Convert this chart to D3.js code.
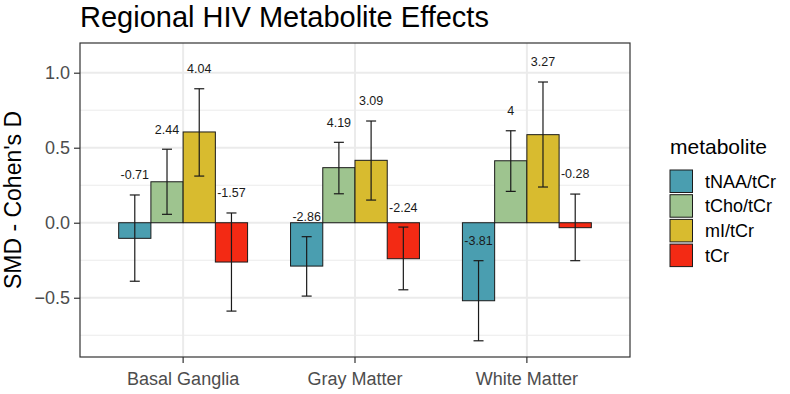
<!DOCTYPE html>
<html>
<head>
<meta charset="utf-8">
<script src="https://cdn.jsdelivr.net/npm/d3@7"></script>
<style>
  body { margin: 0; background: #fff; }
  text { font-family: "Liberation Sans", Arial, sans-serif; }
</style>
</head>
<body>
<svg id="chart"></svg>
<script>
/* CONSTANTS AND GLOBALS */
const width = 790,
  height = 394,
  margin = { top: 43, bottom: 37, left: 80, right: 160 };

/* DATA */
const regions = ["Basal Ganglia", "Gray Matter", "White Matter"];
const metabolites = ["tNAA/tCr", "tCho/tCr", "mI/tCr", "tCr"];
const colors = ["#4A9EB0", "#9EC48F", "#D8BB2F", "#F32A14"];

// SMD per region, in metabolite order
const smdBG = [-0.104, 0.273, 0.605, -0.262];
const smdGM = [-0.289, 0.367, 0.416, -0.240];
const smdWM = [-0.520, 0.413, 0.587, -0.033];

const lowerBG = [-0.390, 0.056, 0.311, -0.589];
const lowerGM = [-0.489, 0.193, 0.151, -0.447];
const lowerWM = [-0.787, 0.209, 0.238, -0.253];

const upperBG = [0.185, 0.490, 0.893, 0.065];
const upperGM = [-0.093, 0.536, 0.678, -0.029];
const upperWM = [-0.253, 0.613, 0.938, 0.191];

const labelsBG = ["-0.71", "2.44", "4.04", "-1.57"];
const labelsGM = ["-2.86", "4.19", "3.09", "-2.24"];
const labelsWM = ["-3.81", "4", "3.27", "-0.28"];

const yTicks = [-0.5, 0, 0.5, 1.0];
const yMinor = [-0.75, -0.25, 0.25, 0.75];

// build long table
const smd = [smdBG, smdGM, smdWM],
  lower = [lowerBG, lowerGM, lowerWM],
  upper = [upperBG, upperGM, upperWM],
  labels = [labelsBG, labelsGM, labelsWM];

const data = [];
regions.forEach((r, i) => {
  metabolites.forEach((m, j) => {
    data.push({ region: r, metabolite: m, smd: smd[i][j], lo: lower[i][j], hi: upper[i][j], label: labels[i][j] });
  });
});

/* SVG */
const svg = d3.select("#chart")
  .attr("width", width)
  .attr("height", height);

const panelRight = width - margin.right;
const panelBottom = height - margin.bottom;

/* SCALES */
const xScale = d3.scaleBand()
  .domain(regions)
  .range([margin.left, panelRight])
  .paddingInner(0.25)
  .paddingOuter(0.225);

const xInner = d3.scaleBand()
  .domain(metabolites)
  .range([0, xScale.bandwidth()]);

const yScale = d3.scaleLinear()
  .domain([-0.895, 1.198])
  .range([panelBottom, margin.top]);

const colorScale = d3.scaleOrdinal().domain(metabolites).range(colors);

/* GRID */
const grid = svg.append("g");
grid.selectAll(".minor")
  .data(yMinor)
  .join("line")
  .attr("x1", margin.left).attr("x2", panelRight)
  .attr("y1", d => yScale(d)).attr("y2", d => yScale(d))
  .attr("stroke", "#EBEBEB").attr("stroke-width", 1);

grid.selectAll(".major")
  .data(yTicks)
  .join("line")
  .attr("x1", margin.left).attr("x2", panelRight)
  .attr("y1", d => yScale(d)).attr("y2", d => yScale(d))
  .attr("stroke", "#EBEBEB").attr("stroke-width", 2);

grid.selectAll(".xmajor")
  .data(regions)
  .join("line")
  .attr("x1", d => xScale(d) + xScale.bandwidth() / 2)
  .attr("x2", d => xScale(d) + xScale.bandwidth() / 2)
  .attr("y1", margin.top).attr("y2", panelBottom)
  .attr("stroke", "#EBEBEB").attr("stroke-width", 2);

/* BARS */
const barX = d => xScale(d.region) + xInner(d.metabolite);
const barCx = d => barX(d) + xInner.bandwidth() / 2;

svg.append("g")
  .selectAll("rect")
  .data(data)
  .join("rect")
  .attr("x", barX)
  .attr("width", xInner.bandwidth())
  .attr("y", d => yScale(Math.max(0, d.smd)))
  .attr("height", d => Math.abs(yScale(d.smd) - yScale(0)))
  .attr("fill", d => colorScale(d.metabolite))
  .attr("stroke", "#1a1a1a")
  .attr("stroke-width", 1);

/* ERROR BARS */
const capW = 5;
const eb = svg.append("g")
  .attr("stroke", "#1a1a1a")
  .attr("stroke-width", 1.2)
  .selectAll("g")
  .data(data)
  .join("g");

eb.append("line")
  .attr("x1", barCx).attr("x2", barCx)
  .attr("y1", d => yScale(d.lo)).attr("y2", d => yScale(d.hi));
eb.append("line")
  .attr("x1", d => barCx(d) - capW).attr("x2", d => barCx(d) + capW)
  .attr("y1", d => yScale(d.lo)).attr("y2", d => yScale(d.lo));
eb.append("line")
  .attr("x1", d => barCx(d) - capW).attr("x2", d => barCx(d) + capW)
  .attr("y1", d => yScale(d.hi)).attr("y2", d => yScale(d.hi));

/* VALUE LABELS */
const labelOffset = 0.133;
svg.append("g")
  .selectAll("text")
  .data(data)
  .join("text")
  .attr("x", barCx)
  .attr("y", d => yScale(d.hi + labelOffset))
  .attr("dy", "0.35em")
  .attr("text-anchor", "middle")
  .attr("font-size", 12.5)
  .attr("fill", "#1a1a1a")
  .text(d => d.label);

/* PANEL BORDER */
svg.append("rect")
  .attr("x", margin.left).attr("y", margin.top)
  .attr("width", panelRight - margin.left)
  .attr("height", panelBottom - margin.top)
  .attr("fill", "none")
  .attr("stroke", "#333333")
  .attr("stroke-width", 1.2);

/* AXES */
const yAxisGroup = svg.append("g")
  .attr("transform", `translate(${margin.left}, 0)`)
  .call(d3.axisLeft(yScale).tickValues(yTicks).tickFormat(d3.format(".1f")).tickSize(6).tickPadding(4));

const xAxisGroup = svg.append("g")
  .attr("transform", `translate(0, ${panelBottom})`)
  .call(d3.axisBottom(xScale).tickSize(6).tickPadding(9));

[yAxisGroup, xAxisGroup].forEach(g => {
  g.select(".domain").remove();
  g.selectAll(".tick line").attr("stroke", "#333333").attr("stroke-width", 1.2);
  g.selectAll(".tick text")
    .attr("fill", "#4D4D4D")
    .attr("font-size", 18)
    .attr("font-family", "Liberation Sans, Arial, sans-serif");
});
xAxisGroup.selectAll(".tick text").attr("dy", "0.71em");

/* TITLES */
svg.append("text")
  .attr("x", margin.left)
  .attr("y", 27)
  .attr("font-size", 29)
  .attr("fill", "#000")
  .text("Regional HIV Metabolite Effects");

svg.append("text")
  .attr("transform", `translate(21, ${(margin.top + panelBottom) / 2}) rotate(-90)`)
  .attr("text-anchor", "middle")
  .attr("font-size", 23)
  .attr("fill", "#000")
  .text("SMD - Cohen's D");

/* LEGEND */
const legend = svg.append("g").attr("transform", "translate(670, 0)");
legend.append("text")
  .attr("x", 0).attr("y", 154)
  .attr("font-size", 21)
  .attr("fill", "#000")
  .text("metabolite");

const keyStep = 24.7, keySize = 22.5, keyTop = 170;
const items = legend.selectAll(".item")
  .data(metabolites)
  .join("g")
  .attr("transform", (d, i) => `translate(0, ${keyTop + i * keyStep})`);

items.append("rect")
  .attr("width", keySize).attr("height", keySize)
  .attr("fill", d => colorScale(d))
  .attr("stroke", "#1a1a1a")
  .attr("stroke-width", 1);

items.append("text")
  .attr("x", 35)
  .attr("y", keySize / 2)
  .attr("dy", "0.35em")
  .attr("font-size", 18)
  .attr("fill", "#000")
  .text(d => d);
</script>
</body>
</html>
